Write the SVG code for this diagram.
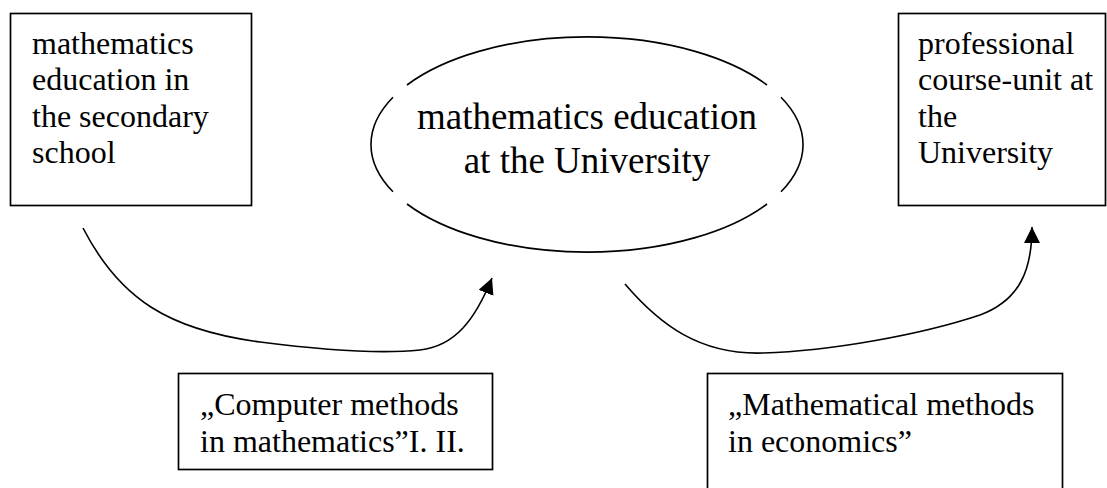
<svg xmlns="http://www.w3.org/2000/svg" width="1107" height="488" viewBox="0 0 1107 488">
<style>
.box{fill:#fff;stroke:#000;stroke-width:1.7}
.t{font-family:'Liberation Serif',serif;font-size:32px;fill:#000}
.big{font-family:'Liberation Serif',serif;font-size:37px;fill:#000}
.line{fill:none;stroke:#000;stroke-width:1.6}
</style>
<defs>
<marker id="ah" markerUnits="userSpaceOnUse" markerWidth="17" markerHeight="17" refX="16" refY="8" orient="auto">
<path d="M0,0 L16,8 L0,16 z" fill="#000"/>
</marker>
</defs>
<rect width="1107" height="488" fill="#fff"/>
<g id="secondary-school">
<rect class="box" x="10.5" y="13.5" width="241" height="192"/>
<text class="t" x="32" y="54">mathematics</text>
<text class="t" x="32" y="90">education in</text>
<text class="t" x="32" y="127">the secondary</text>
<text class="t" x="32" y="163">school</text>
</g>
<g id="university">
<path class="line" d="M407,85 A216,107.5 0 0 1 767,85"/>
<path class="line" d="M781,97.2 A216,107.5 0 0 1 781,191.8"/>
<path class="line" d="M767,204 A216,107.5 0 0 1 407,204"/>
<path class="line" d="M393,191.8 A216,107.5 0 0 1 393,97.2"/>
<text class="big" x="587" y="129" text-anchor="middle">mathematics education</text>
<text class="big" x="587" y="173" text-anchor="middle">at the University</text>
</g>
<g id="professional">
<rect class="box" x="898.5" y="13.5" width="207" height="192"/>
<text class="t" x="918" y="54">professional</text>
<text class="t" x="918" y="90">course-unit at</text>
<text class="t" x="918" y="127">the</text>
<text class="t" x="918" y="163">University</text>
</g>
<g id="computer-methods">
<rect class="box" x="178.5" y="373.5" width="314" height="96"/>
<text class="t" x="200" y="415">„Computer methods</text>
<text class="t" x="200" y="452">in mathematics”I. II.</text>
</g>
<g id="mathematical-methods">
<rect class="box" x="707.5" y="373.5" width="355" height="120"/>
<text class="t" x="728" y="415">„Mathematical methods</text>
<text class="t" x="728" y="452">in economics”</text>
</g>
<g id="connectors">
<path class="line" marker-end="url(#ah)" d="M83,228 C120,300 170,330 260,342 C330,351 380,354 420,350 C455,346 475,320 492,278"/>
<path class="line" marker-end="url(#ah)" d="M625,284 C660,325 700,355 763,353 C830,351 920,335 980,315 C1020,300 1032,270 1032,227"/>
</g>
</svg>
